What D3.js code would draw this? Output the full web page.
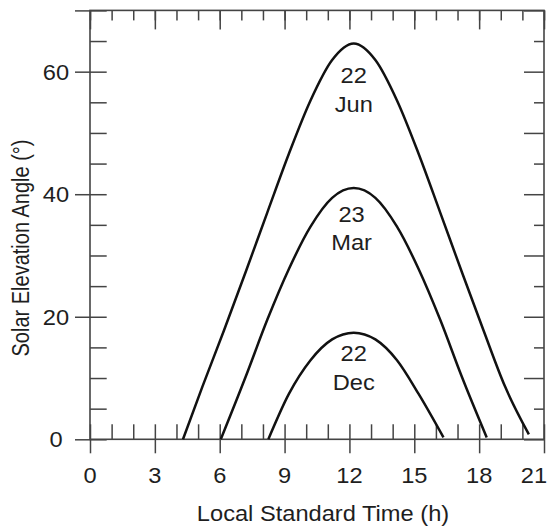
<!DOCTYPE html>
<html>
<head>
<meta charset="utf-8">
<script src="https://cdn.jsdelivr.net/npm/d3@7/dist/d3.min.js"></script>
<style>
  html, body { margin: 0; padding: 0; background: #fff; }
  svg { display: block; }
  text { font-family: "Liberation Sans", Arial, Helvetica, sans-serif; fill: #1e1e1e; }
</style>
</head>
<body>
<script>
// ---- Data ----
const hourTicks = d3.range(0, 22);            // minor ticks every hour
const hourLabels = [0, 3, 6, 9, 12, 15, 18, 21];
const elevTicks = d3.range(0, 75, 5);
const elevLabels = [0, 20, 40, 60];

const junHours = [4.3, 5.2, 6.2, 7.2, 8.2, 9.2, 10.2, 11.2, 12.2, 13.2, 14.2, 15.2, 16.2, 17.2, 18.2, 19.2, 20.3];
const junElev  = [0.0, 8.6, 17.8, 27.3, 37.0, 46.6, 55.3, 61.9, 64.6, 61.9, 55.3, 46.6, 37.0, 27.3, 17.8, 8.6, 0.8];

const marHours = [6.05, 7.2, 8.2, 9.2, 10.2, 11.2, 12.2, 13.2, 14.2, 15.2, 16.2, 17.2, 18.35];
const marElev  = [0.0, 10.2, 19.5, 27.8, 34.7, 39.4, 41.0, 39.4, 34.7, 27.8, 19.5, 10.2, 0.3];

const decHours = [8.25, 9.2, 10.2, 11.2, 12.2, 13.2, 14.2, 15.2, 16.35];
const decElev  = [0.0, 7.4, 12.9, 16.3, 17.4, 16.3, 12.9, 7.4, 0.3];

const seriesDay   = ["22", "23", "22"];
const seriesMonth = ["Jun", "Mar", "Dec"];
const labelHour   = [12.2, 12.1, 12.2];
const labelElev   = [58.1, 35.5, 12.7];

const xTitle = "Local Standard Time (h)";
const yTitle = "Solar Elevation Angle (°)";

// ---- Layout ----
const W = 552, H = 527;
const svg = d3.select("body").append("svg").attr("width", W).attr("height", H);

const x = d3.scaleLinear().domain([0, 21]).range([90, 544]);
const y = d3.scaleLinear().domain([0, 70]).range([439.3, 10.4]);

const axisColor = "#444";
const sx = 1.1;      // horizontal stretch of the reference's lettering
const fs = 21.5;

function styleAxis(g) {
  g.select(".domain").remove();
  g.selectAll(".tick line").attr("stroke", axisColor).attr("stroke-width", 1.5);
}

// bottom: inner ticks every hour
svg.append("g").attr("transform", `translate(0,${y(0)})`)
  .call(d3.axisBottom(x).tickValues(hourTicks).tickSize(-15).tickFormat(""))
  .call(styleAxis);
// bottom: outer ticks at labeled hours
svg.append("g").attr("transform", `translate(0,${y(0)})`)
  .call(d3.axisBottom(x).tickValues(hourLabels).tickSize(14).tickFormat(""))
  .call(styleAxis);
// top: minor and major inner ticks
svg.append("g").attr("transform", `translate(0,${y(70)})`)
  .call(d3.axisTop(x).tickValues(hourTicks).tickSize(-10).tickFormat(""))
  .call(styleAxis);
svg.append("g").attr("transform", `translate(0,${y(70)})`)
  .call(d3.axisTop(x).tickValues(hourLabels).tickSize(-19).tickFormat(""))
  .call(styleAxis);
// left: inner ticks every 5 deg
svg.append("g").attr("transform", `translate(${x(0)},0)`)
  .call(d3.axisLeft(y).tickValues(elevTicks).tickSize(-16.7).tickFormat(""))
  .call(styleAxis);
// left: outer ticks at labeled values and top
svg.append("g").attr("transform", `translate(${x(0)},0)`)
  .call(d3.axisLeft(y).tickValues(elevLabels.concat([70])).tickSize(15).tickFormat(""))
  .call(styleAxis);
// right: ticks every 5 deg, longer at tens
svg.append("g").attr("transform", `translate(${x(21)},0)`)
  .call(d3.axisRight(y).tickValues(elevTicks.filter(v => v % 10 !== 0)).tickSize(-10).tickFormat(""))
  .call(styleAxis);
svg.append("g").attr("transform", `translate(${x(21)},0)`)
  .call(d3.axisRight(y).tickValues(elevTicks.filter(v => v % 10 === 0)).tickSize(-20).tickFormat(""))
  .call(styleAxis);

// frame
svg.append("rect")
  .attr("x", x(0)).attr("y", y(70))
  .attr("width", x(21) - x(0)).attr("height", y(0) - y(70))
  .attr("fill", "none").attr("stroke", axisColor).attr("stroke-width", 1.6);

// tick labels (last one nudged inside the page, as in the reference)
svg.append("g").selectAll("text").data(hourLabels).join("text")
  .attr("transform", d => `translate(${Math.min(x(d), 534)},483.3) scale(${sx},1)`)
  .attr("text-anchor", "middle").attr("font-size", fs)
  .text(d => d);
svg.append("g").selectAll("text").data(elevLabels).join("text")
  .attr("transform", d => `translate(56,${y(d) + 8}) scale(${sx},1)`)
  .attr("text-anchor", "middle").attr("font-size", fs)
  .text(d => d);

// axis titles
svg.append("text")
  .attr("transform", `translate(323,520.7) scale(${sx},1)`)
  .attr("text-anchor", "middle").attr("font-size", fs)
  .text(xTitle);
svg.append("text")
  .attr("transform", `translate(28.5,248) rotate(-90) scale(1,1.15)`)
  .attr("text-anchor", "middle").attr("font-size", 20)
  .text(yTitle);

// curves
const line = d3.line().x(d => x(d[0])).y(d => y(d[1])).curve(d3.curveMonotoneX);
const series = [
  d3.zip(junHours, junElev),
  d3.zip(marHours, marElev),
  d3.zip(decHours, decElev)
];
svg.append("g").selectAll("path").data(series).join("path")
  .attr("d", line)
  .attr("fill", "none").attr("stroke", "#111").attr("stroke-width", 2.5)
  .attr("stroke-linejoin", "round");

// curve labels
series.forEach((s, i) => {
  const g = svg.append("g");
  g.append("text")
    .attr("transform", `translate(${x(labelHour[i])},${y(labelElev[i])}) scale(${sx},1)`)
    .attr("text-anchor", "middle").attr("font-size", fs).text(seriesDay[i]);
  g.append("text")
    .attr("transform", `translate(${x(labelHour[i])},${y(labelElev[i]) + 28.4}) scale(${sx},1)`)
    .attr("text-anchor", "middle").attr("font-size", fs).text(seriesMonth[i]);
});
</script>
</body>
</html>
